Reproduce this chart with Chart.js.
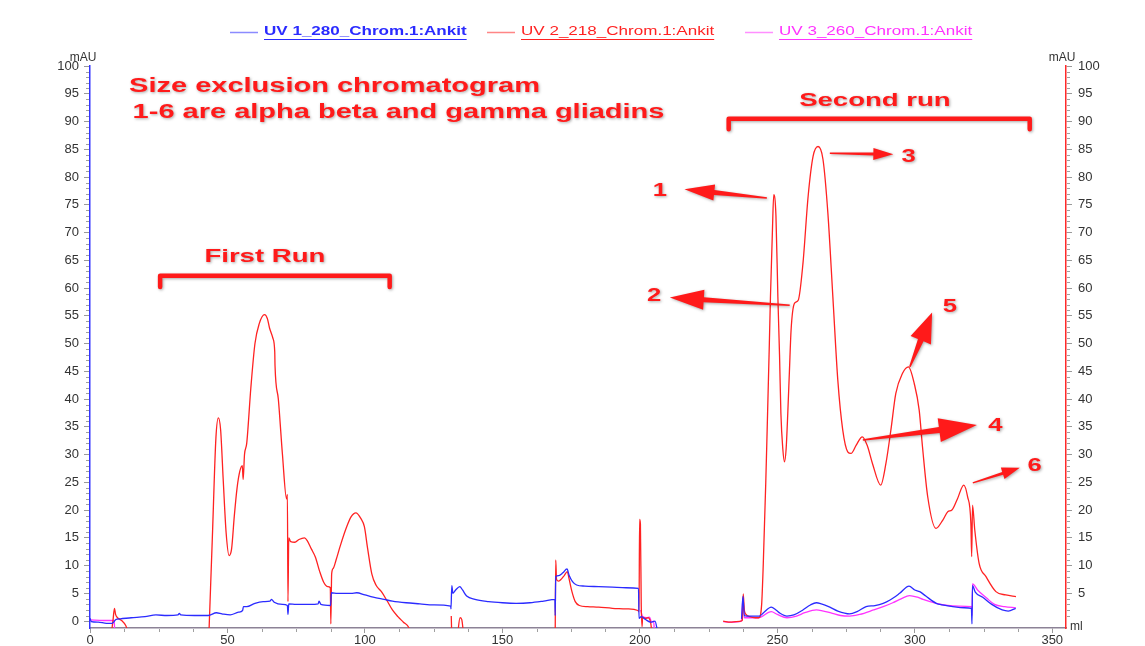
<!DOCTYPE html>
<html>
<head>
<meta charset="utf-8">
<title>Size exclusion chromatogram</title>
<script src="https://cdn.jsdelivr.net/npm/chart.js@4.4.1/dist/chart.umd.min.js"></script>
<style>
  html, body { margin: 0; padding: 0; background: #ffffff; }
  #wrap { width: 1145px; height: 646px; position: relative; }
</style>
</head>
<body>
<div id="wrap"><canvas id="chrom"></canvas></div>
<script>
// ---- axis ticks ----
const mlTicks = [0, 50, 100, 150, 200, 250, 300, 350];
const mauTicks = [0, 5, 10, 15, 20, 25, 30, 35, 40, 45, 50, 55, 60, 65, 70, 75, 80, 85, 90, 95, 100];
const mauTicksRight = [5, 10, 15, 20, 25, 30, 35, 40, 45, 50, 55, 60, 65, 70, 75, 80, 85, 90, 95, 100];

// ---- series names ----
const seriesNames = ['UV 1_280_Chrom.1:Ankit', 'UV 2_218_Chrom.1:Ankit', 'UV 3_260_Chrom.1:Ankit'];

// ---- UV 1 (280 nm): [volume ml, absorbance mAU]; null = detector gap ----
const uv280 = [
  [0, 0.5], [0.5, -0.1], [3, -0.2], [6, -0.4], [8, -0.4], [9.5, 0.3], [11, 0.4], [15, 0.6],
  [20, 0.8], [24, 1.1], [28, 1.0], [32, 1.1], [32.5, 1.4], [33, 1.1], [38, 1.0], [43, 1.0],
  [46, 1.5], [48, 1.3], [51, 1.1], [54, 1.6], [55.5, 1.9], [55.8, 2.6], [57, 2.6], [60, 3.2],
  [63, 3.5], [65.5, 3.6], [66, 3.9], [67, 3.4], [70, 3.0], [71.8, 2.8], [72, 1.2], [72.3, 3.1],
  [75, 3.0], [80, 3.0], [83, 3.1], [83.3, 3.6], [84, 3.0], [87.5, 2.8], [87.8, 5.1], [90, 5.0],
  [95, 5.0], [97, 5.1], [100, 4.7], [103, 4.3], [107, 3.9], [110, 3.6], [115, 3.3], [120, 3.1],
  [125, 2.9], [131.2, 2.7], [131.3, 2.2], [131.6, 6.4], [132.0, 5.0], [133.0, 5.6], [134.5, 6.2],
  [135.5, 5.6], [137, 4.5], [140, 3.9], [145, 3.5], [150, 3.3], [155, 3.2], [160, 3.3], [165, 3.6],
  [169.1, 3.9], [169.2, 1.0], [169.4, 8.0], [170.5, 8.2], [172, 8.7], [173.5, 9.4], [174.3, 8.2],
  [175.5, 7.1], [177, 6.5], [180, 6.3], [185, 6.2], [190, 6.1], [195, 6.0], [199.5, 5.9],
  [199.7, 0.5], [200.5, 0.8], [202, 0.3], [204, -0.2], [205.5, 0.0], [206.5, -2],
  [206.6, null],
  [237.0, 0.4], [237.5, 4.5], [238.0, 1.0], [240, 0.9], [243.5, 0.9], [245, 1.5], [247.8, 2.5],
  [249.5, 2.0], [251, 1.4], [253.5, 0.9], [256, 1.1], [259.3, 2.0], [262, 2.9], [264.2, 3.3],
  [266, 3.1], [269.1, 2.5], [272, 1.8], [276.3, 1.3], [279, 1.7], [282.3, 2.6], [285.5, 2.8],
  [288.5, 3.2], [291, 3.8], [294.5, 5.0], [297.9, 6.3], [300, 5.6], [301.8, 5.3], [304, 4.5],
  [307.8, 3.2], [310, 2.9], [313.8, 2.6], [318, 2.4], [320.6, 2.3], [320.8, -0.5], [321.0, 6.4],
  [322, 5.2], [324.7, 4.3], [328, 3.0], [331.8, 2.0], [334, 1.8], [336.7, 2.3]
];

// ---- UV 2 (218 nm) ----
const uv218 = [
  [7.6, -3], [8.4, 0.3], [8.9, 2.3], [9.3, 1.2], [10, 0.6], [11.5, 0.1], [13, -0.8], [14.5, -3],
  [14.6, null],
  [43.2, -3], [44.5, 15], [45.8, 33], [46.7, 36.6], [47.5, 34.5], [48.5, 25], [49.5, 16],
  [50.6, 11.8], [51.5, 13], [52.5, 19], [53.5, 24], [54.5, 27], [55.4, 28], [55.7, 25.5],
  [56.2, 30], [57, 32], [58.5, 42], [60, 50], [61.5, 53.5], [63.5, 55.2], [64.5, 54.5],
  [65.3, 52.8], [66.5, 51], [67.2, 48.5], [67.3, 46], [68.5, 40], [70, 30], [71.5, 22],
  [71.8, 22.8], [72.0, 3.5], [72.3, 15], [73, 14.3], [74.5, 14.2], [76, 14.7], [78, 15],
  [79, 14.5], [80.5, 13], [82, 11.5], [83.5, 9], [85, 7], [86.5, 6.2], [87.4, 6.0], [87.6, -0.5],
  [87.9, 8.5], [88.5, 9.5], [89.5, 11], [91, 13.5], [93, 16.5], [95, 18.8], [96.7, 19.5],
  [98.5, 18.5], [99.8, 17], [101, 13], [102.5, 8.5], [104, 6.5], [106, 5.3], [108, 3.7],
  [110, 2], [112, 0.8], [114, -0.2], [116, -1.2], [117, -3],
  [117.1, null],
  [131.4, 0.9], [131.6, -3],
  [131.7, null],
  [133.6, -3], [134.6, 0.6], [135.2, 0.3], [136, -3],
  [136.1, null],
  [169.2, -3], [169.4, 11], [169.7, 7.5], [170.5, 7.2], [171.5, 7.6], [172.5, 8.2], [173.6, 8.9],
  [174.3, 7.5], [175.3, 5.3], [176.5, 3.5], [178, 2.8], [181, 2.6], [185, 2.5], [190, 2.3],
  [195, 2.2], [199.3, 1.9], [199.7, 1.7], [199.9, 18.3], [200.2, 17.5], [200.5, 3], [200.8, -1],
  [201, 0.7], [202, 0.5], [203, 0.6], [204, -0.5], [204.5, -3],
  [204.6, null],
  [230.3, 0.0], [233, -0.2], [235, -0.1], [237.3, 0.1], [237.6, 4.9], [238, 2], [238.6, 1.2],
  [240, 0.8], [242, 0.6], [243.3, 0.6], [244.3, 3], [244.9, 10.4], [245.8, 25], [246.3, 34.4],
  [247.1, 50], [247.5, 58.4], [248.2, 70], [248.7, 76.8], [249.5, 73], [250.2, 58.4], [250.8, 48],
  [251.3, 37.4], [252.0, 31], [252.6, 28.7], [253.2, 31], [253.8, 37.4], [254.4, 45], [255.0, 52.4],
  [256.2, 57.2], [257.6, 57.8], [259.3, 64.3], [261.2, 76.5], [263.0, 83.7], [264.8, 85.5],
  [266.6, 83.2], [268.4, 73.4], [270.2, 58.4], [272.0, 43.4], [273.8, 34.4], [275.6, 30.5],
  [276.8, 30.2], [278.7, 31.7], [280.9, 33.2], [282.8, 31.5], [284.6, 28.4], [287.6, 24.5],
  [289.5, 28.4], [291.3, 34.4], [293.1, 41], [295.5, 44.6], [297.7, 45.8], [299.8, 42.8],
  [301.6, 38], [302.8, 31.4], [304.7, 22.4], [307.7, 16.7], [310.2, 18.2], [312.0, 19.7],
  [313.5, 20.0], [315.5, 22], [317.8, 24.5], [319.2, 22.4], [320.4, 17.6], [320.7, 11.6],
  [321.0, 20.9], [321.8, 16.5], [323.4, 10.4], [325.9, 8], [329.5, 5.3], [333.1, 4.7], [336.8, 4.4]
];

// ---- UV 3 (260 nm) ----
const uv260 = [
  [0, 0.2], [5, 0.1], [8.8, 0.1], [9.0, -2],
  [9.1, null],
  [200.3, 2], [201, 0.8], [202.5, 0.6], [203.5, 0.7], [204.3, -0.2], [205, 0], [205.3, -2],
  [205.4, null],
  [230.3, -0.1], [233, -0.2], [237.0, 0.0], [237.5, 4.2], [238, 0.6], [243, 0.6], [247.8, 1.7],
  [250, 1.2], [253.5, 0.6], [257, 0.9], [260, 1.5], [264.2, 2.0], [266, 1.9], [270, 1.4],
  [273, 1.0], [276.3, 0.9], [280, 1.2], [285, 2.0], [288.5, 2.6], [292, 3.3], [295, 4.0],
  [298.1, 4.6], [301, 4.3], [303, 3.9], [307.8, 3.2], [312, 2.8], [316, 2.7], [320.6, 2.6],
  [320.8, 1.0], [321.0, 6.7], [323, 5.5], [326, 4.2], [329, 3.0], [332.7, 2.6], [336.7, 2.4]
];

// ---- annotation layout (placed in data units: ml, mAU) ----
const FONT = "'Liberation Sans', Arial, Helvetica, sans-serif";
const RED = '#ff1a1a';
const notes = {
  title: [
    { text: 'Size exclusion chromatogram', x: 14.2, y: 96.3 },
    { text: '1-6 are alpha beta and gamma gliadins', x: 15.5, y: 91.7 }
  ],
  runs: [
    { text: 'First Run', tx: 63.6, ty: 65.7, x0: 25.5, x1: 109, yTop: 62.2, yEnd: 60.2 },
    { text: 'Second run', tx: 285.5, ty: 93.7, x0: 232.3, x1: 341.8, yTop: 90.5, yEnd: 88.6 }
  ],
  peaks: [
    { n: '1', lx: 207.3, ly: 77.6, from: [246.2, 76.2], to: [216.2, 77.8], head: [30, 8], shaft: [1.5, 5] },
    { n: '2', lx: 205.2, ly: 58.6, from: [254.5, 56.9], to: [210.9, 58.3], head: [34, 10], shaft: [1.5, 5] },
    { n: '3', lx: 297.8, ly: 83.6, from: [269.1, 84.3], to: [292.2, 84.1], head: [20, 6], shaft: [1.5, 3] },
    { n: '4', lx: 329.3, ly: 35.1, from: [281.1, 32.6], to: [322.6, 35.3], head: [38, 12], shaft: [1.5, 6] },
    { n: '5', lx: 312.8, ly: 56.6, from: [298.2, 45.8], to: [306.3, 55.6], head: [30, 11], shaft: [1.5, 6] },
    { n: '6', lx: 343.6, ly: 27.9, from: [321.1, 24.9], to: [338.2, 27.6], head: [18, 6], shaft: [1.5, 3] }
  ]
};

// legend row: left edge of each entry's line sample, on the canvas
const legendRow = { y: 32, starts: [230, 487, 745], lineLen: 28, gap: 6, stretch: 1.42 };

const toPts = arr => arr.map(([x, y]) => ({ x, y }));

function stretchedText(ctx, text, x, y, sx, align) {
  ctx.save();
  ctx.translate(x, y);
  ctx.scale(sx, 1);
  ctx.textAlign = align || 'left';
  ctx.fillText(text, 0, 0);
  ctx.restore();
}

function taperedArrow(ctx, x0, y0, x1, y1, head, shaft) {
  const L = Math.hypot(x1 - x0, y1 - y0);
  const a = Math.atan2(y1 - y0, x1 - x0);
  const hl = head[0], hw = head[1], t0 = shaft[0] / 2, t1 = shaft[1] / 2;
  ctx.save();
  ctx.translate(x0, y0);
  ctx.rotate(a);
  ctx.beginPath();
  ctx.moveTo(0, -t0);
  ctx.lineTo(L - hl, -t1);
  ctx.lineTo(L - hl, -hw);
  ctx.lineTo(L, 0);
  ctx.lineTo(L - hl, hw);
  ctx.lineTo(L - hl, t1);
  ctx.lineTo(0, t0);
  ctx.closePath();
  ctx.fill();
  ctx.restore();
}

const decor = {
  id: 'chromDecor',
  afterDraw(chart) {
    const ctx = chart.ctx;
    const xs = chart.scales.x, ys = chart.scales.y;
    const area = chart.chartArea;
    const px = v => xs.getPixelForValue(v);
    const py = v => ys.getPixelForValue(v);

    // minor ticks
    ctx.save();
    ctx.lineWidth = 1;
    ctx.strokeStyle = '#a0a0a0';
    ctx.beginPath();
    for (let v = 0; v <= 100; v += 1) {
      if (v % 5 === 0) continue;
      const y = Math.round(py(v)) + 0.5;
      ctx.moveTo(area.left - 4, y); ctx.lineTo(area.left - 1, y);
      ctx.moveTo(area.right + 1, y); ctx.lineTo(area.right + 4, y);
    }
    for (let v = 12.5; v < 355; v += 12.5) {
      if (v % 50 === 0) continue;
      const x = Math.round(px(v)) + 0.5;
      ctx.moveTo(x, area.bottom + 1); ctx.lineTo(x, area.bottom + 4);
    }
    ctx.stroke();
    ctx.restore();

    // axis units
    ctx.save();
    ctx.fillStyle = '#333333';
    ctx.font = '12px ' + FONT;
    ctx.textBaseline = 'middle';
    ctx.textAlign = 'center';
    ctx.fillText('mAU', area.left - 7, area.top - 8);
    ctx.fillText('mAU', area.right - 4, area.top - 8);
    ctx.textAlign = 'left';
    ctx.fillText('ml', area.right + 4, area.bottom - 1);
    ctx.restore();

    // legend
    ctx.save();
    const colors = chart.data.datasets.map(d => d.borderColor);
    const ly = legendRow.y;
    ctx.textBaseline = 'middle';
    seriesNames.forEach((t, i) => {
      const lx = legendRow.starts[i];
      ctx.strokeStyle = colors[i];
      ctx.globalAlpha = 0.55;
      ctx.lineWidth = 1.5;
      ctx.beginPath();
      ctx.moveTo(lx, ly + 0.5); ctx.lineTo(lx + legendRow.lineLen, ly + 0.5);
      ctx.stroke();
      ctx.globalAlpha = 1;
      const tx = lx + legendRow.lineLen + legendRow.gap;
      ctx.fillStyle = colors[i];
      ctx.font = (i === 0 ? 'bold ' : '') + '12px ' + FONT;
      const w = ctx.measureText(t).width * legendRow.stretch;
      stretchedText(ctx, t, tx, ly, legendRow.stretch, 'left');
      ctx.lineWidth = 1;
      ctx.beginPath();
      ctx.moveTo(tx, ly + 7.5); ctx.lineTo(tx + w, ly + 7.5);
      ctx.stroke();
    });
    ctx.restore();

    // annotations
    ctx.save();
    ctx.fillStyle = RED;
    ctx.strokeStyle = RED;
    ctx.shadowColor = 'rgba(0,0,0,0.35)';
    ctx.shadowBlur = 3;
    ctx.shadowOffsetX = 1;
    ctx.shadowOffsetY = 1;
    ctx.textBaseline = 'middle';
    ctx.font = 'bold 20px ' + FONT;
    notes.title.forEach(t => stretchedText(ctx, t.text, px(t.x), py(t.y), 1.45, 'left'));
    notes.runs.forEach(r => {
      ctx.font = 'bold 19px ' + FONT;
      stretchedText(ctx, r.text, px(r.tx), py(r.ty), 1.45, 'center');
      ctx.lineWidth = 4.5;
      ctx.lineCap = 'round';
      ctx.lineJoin = 'round';
      ctx.beginPath();
      ctx.moveTo(px(r.x0), py(r.yEnd));
      ctx.lineTo(px(r.x0), py(r.yTop));
      ctx.lineTo(px(r.x1), py(r.yTop));
      ctx.lineTo(px(r.x1), py(r.yEnd));
      ctx.stroke();
    });
    notes.peaks.forEach(p => {
      taperedArrow(ctx, px(p.from[0]), py(p.from[1]), px(p.to[0]), py(p.to[1]), p.head, p.shaft);
      ctx.font = 'bold 19px ' + FONT;
      stretchedText(ctx, p.n, px(p.lx), py(p.ly), 1.35, 'center');
    });
    ctx.restore();
  }
};

const tickFont = { family: FONT, size: 13 };

new Chart(document.getElementById('chrom'), {
  type: 'line',
  data: {
    datasets: [
      { label: seriesNames[0], data: toPts(uv280), borderColor: '#2b2bff', yAxisID: 'y' },
      { label: seriesNames[1], data: toPts(uv218), borderColor: '#ff2222', yAxisID: 'y' },
      { label: seriesNames[2], data: toPts(uv260), borderColor: '#ff33ff', yAxisID: 'y' }
    ]
  },
  options: {
    responsive: true,
    maintainAspectRatio: false,
    devicePixelRatio: 1,
    animation: false,
    spanGaps: false,
    layout: { padding: { top: 66, left: 0, right: 0, bottom: 0 } },
    elements: {
      point: { radius: 0, hoverRadius: 0 },
      line: { borderWidth: 1.3, tension: 0, cubicInterpolationMode: 'monotone', fill: false }
    },
    plugins: { legend: { display: false }, tooltip: { enabled: false } },
    scales: {
      x: {
        type: 'linear', min: 0, max: 355,
        afterBuildTicks: s => { s.ticks = mlTicks.map(v => ({ value: v })); },
        afterFit: s => { s.height = 18; },
        border: { color: '#8c8296', width: 1.5 },
        grid: { drawOnChartArea: false, tickLength: 5, tickColor: '#9a9a9a' },
        ticks: { font: tickFont, color: '#333333', padding: 0, maxRotation: 0 }
      },
      y: {
        type: 'linear', position: 'left', min: -1.25, max: 100,
        afterBuildTicks: s => { s.ticks = mauTicks.map(v => ({ value: v })); },
        afterFit: s => { s.width = 90; },
        border: { color: '#3333ff', width: 1.5 },
        grid: { drawOnChartArea: false, tickLength: 6, tickColor: '#9a9a9a' },
        ticks: { font: tickFont, color: '#333333', padding: 5 }
      },
      y2: {
        type: 'linear', position: 'right', min: -1.25, max: 100,
        afterBuildTicks: s => { s.ticks = mauTicksRight.map(v => ({ value: v })); },
        afterFit: s => { s.width = 79; },
        border: { color: '#ff2a2a', width: 1.5 },
        grid: { drawOnChartArea: false, tickLength: 6, tickColor: '#9a9a9a' },
        ticks: { font: tickFont, color: '#333333', padding: 6 }
      }
    }
  },
  plugins: [decor]
});
</script>
</body>
</html>
